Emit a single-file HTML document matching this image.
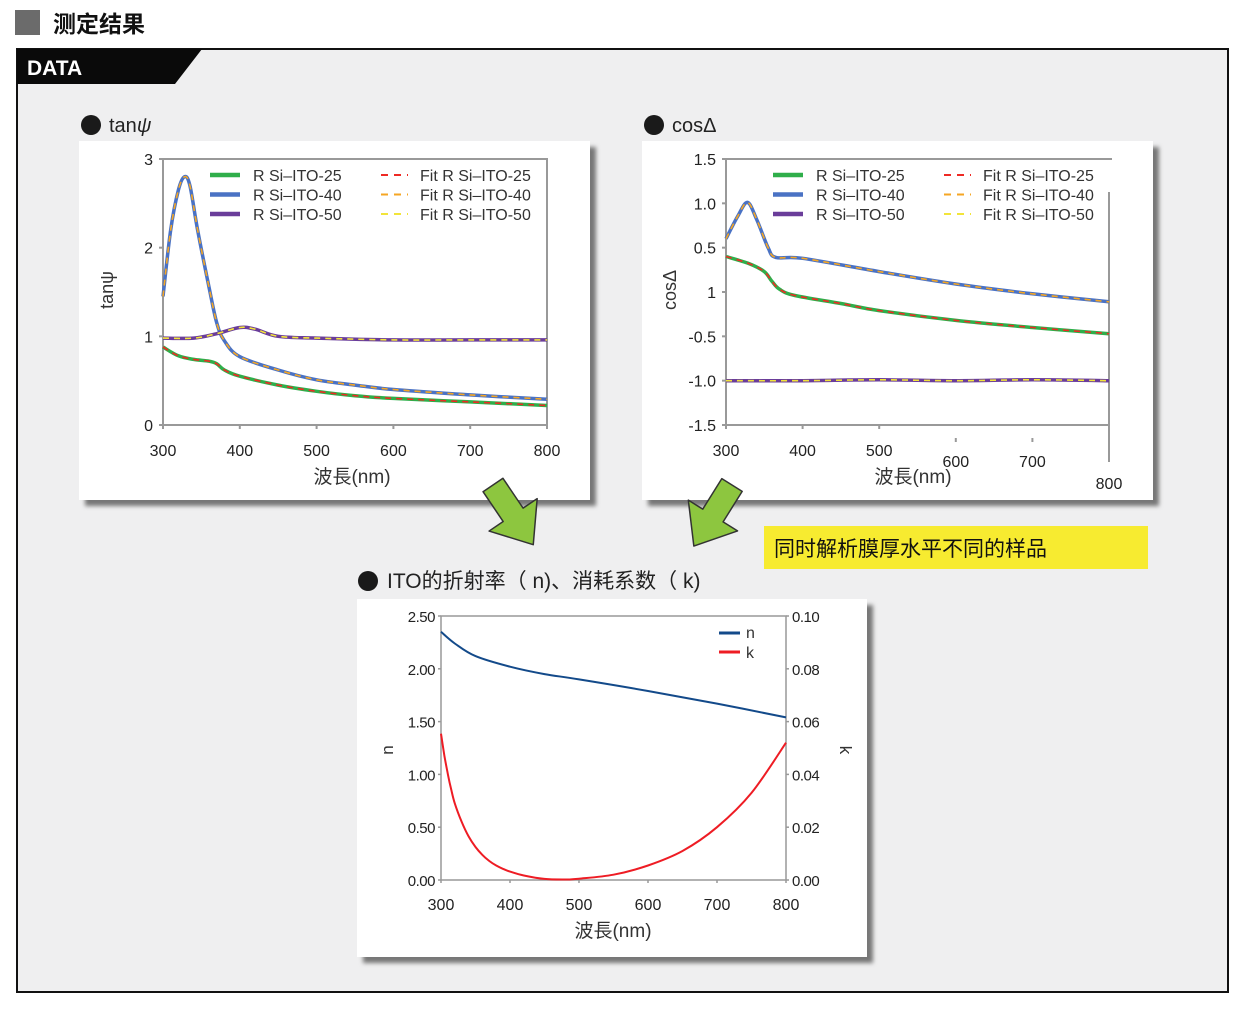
<!DOCTYPE html>
<html><head><meta charset="utf-8">
<style>
html,body{margin:0;padding:0;background:#fff;}
svg{display:block;font-family:"Liberation Sans","Noto Sans CJK SC",sans-serif;}
</style></head>
<body>
<svg id="svg" width="1248" height="1009" viewBox="0 0 1248 1009" xmlns="http://www.w3.org/2000/svg">
<defs>
<filter id="sh" x="-5%" y="-5%" width="115%" height="115%"><feGaussianBlur stdDeviation="2"/></filter>
</defs>
<rect width="1248" height="1009" fill="#fff"/>
<rect x="15" y="10" width="25" height="25" fill="#6b6b6b"/>
<text x="53" y="32" font-size="23" font-weight="bold" fill="#111" font-family="'Noto Sans CJK SC',sans-serif">测定结果</text>
<rect x="17" y="49" width="1211" height="943" fill="#efeff0" stroke="#111" stroke-width="2"/>
<polygon points="17,49 202,49 175,84 17,84" fill="#0a0a0a"/>
<text x="27" y="75" font-size="21" font-weight="bold" fill="#fff">DATA</text>

<rect x="85" y="147" width="511" height="359" fill="#777" filter="url(#sh)"/>
<rect x="79" y="141" width="511" height="359" fill="#fff"/>
<rect x="648" y="147" width="511" height="359" fill="#777" filter="url(#sh)"/>
<rect x="642" y="141" width="511" height="359" fill="#fff"/>
<rect x="363" y="605" width="510" height="358" fill="#777" filter="url(#sh)"/>
<rect x="357" y="599" width="510" height="358" fill="#fff"/>

<circle cx="91" cy="125" r="10" fill="#1a1a1a"/>
<text x="109" y="132" font-size="20" fill="#222">tan<tspan font-style="italic">ψ</tspan></text>
<circle cx="654" cy="125" r="10" fill="#1a1a1a"/>
<text x="672" y="132" font-size="20" fill="#222">cosΔ</text>
<circle cx="368" cy="581" r="10" fill="#1a1a1a"/>
<text x="387" y="588" font-size="21" fill="#222">ITO的折射率（ n)、消耗系数（ k)</text>

<rect x="764" y="526" width="384" height="43" fill="#f7eb30"/>
<text x="774" y="556" font-size="21" fill="#111">同时解析膜厚水平不同的样品</text>

<g id="arrows"></g>
<g id="c1"></g><g id="c2"></g><g id="c3"></g>
</svg>
<script>
const tanX25=[300,320,340,360,370,380,400,450,500,550,600,700,800];
const tanY25=[0.88,0.78,0.74,0.72,0.69,0.62,0.55,0.45,0.38,0.33,0.30,0.26,0.22];
const tanX40=[300,310,320,328,335,345,360,370,380,400,450,500,550,600,700,800];
const tanY40=[1.45,2.2,2.65,2.8,2.7,2.2,1.55,1.15,0.95,0.77,0.62,0.51,0.45,0.40,0.34,0.29];
const tanX50=[300,340,370,400,420,450,500,600,700,800];
const tanY50=[0.98,0.98,1.03,1.1,1.08,1.0,0.98,0.96,0.96,0.96];
const cosX25=[300,330,350,360,370,390,450,500,600,700,800];
const cosY25=[0.40,0.32,0.23,0.12,0.03,-0.04,-0.13,-0.21,-0.32,-0.40,-0.47];
const cosX40=[300,315,328,340,355,365,400,500,600,700,800];
const cosY40=[0.6,0.85,1.01,0.82,0.5,0.39,0.38,0.23,0.09,-0.02,-0.11];
const cosX50=[300,400,500,600,700,800];
const cosY50=[-1.0,-1.0,-0.99,-1.0,-0.99,-1.0];
const nkX=[300,320,350,400,450,500,600,700,800];
const nVals=[2.35,2.24,2.12,2.02,1.95,1.90,1.79,1.67,1.54];
const kX=[300,305,310,315,320,330,340,350,360,370,380,390,400,420,450,480,500,550,600,650,700,750,800];
const kVals=[0.0554,0.047,0.040,0.034,0.029,0.022,0.0165,0.0125,0.0095,0.0072,0.0055,0.0042,0.0032,0.0017,0.0004,0.0002,0.0005,0.002,0.0055,0.011,0.02,0.033,0.052];
const tanTicks=["0","1","2","3"];
const cosTicks=["-1.5","-1.0","-0.5","1","0.5","1.0","1.5"];
const xTicks=["300","400","500","600","700","800"];
const nTicks=["0.00","0.50","1.00","1.50","2.00","2.50"];
const kTicks=["0.00","0.02","0.04","0.06","0.08","0.10"];
const legNames=["R Si–ITO-25","R Si–ITO-40","R Si–ITO-50"];
const fitNames=["Fit R Si–ITO-25","Fit R Si–ITO-40","Fit R Si–ITO-50"];

const NS="http://www.w3.org/2000/svg";
function mk(parent,tag,attrs,txt){const e=document.createElementNS(NS,tag);for(const k in attrs)e.setAttribute(k,attrs[k]);if(txt!==undefined)e.textContent=txt;parent.appendChild(e);return e;}
function scale(d0,d1,r0,r1){return v=>r0+(v-d0)/(d1-d0)*(r1-r0);}
function smoothPath(xs,ys,sx,sy){
  const p=xs.map((x,i)=>[sx(x),sy(ys[i])]);
  let d="M"+p[0][0].toFixed(1)+","+p[0][1].toFixed(1);
  for(let i=0;i<p.length-1;i++){
    const p0=p[Math.max(0,i-1)],p1=p[i],p2=p[i+1],p3=p[Math.min(p.length-1,i+2)];
    const c1=[p1[0]+(p2[0]-p0[0])/6,p1[1]+(p2[1]-p0[1])/6];
    const c2=[p2[0]-(p3[0]-p1[0])/6,p2[1]-(p3[1]-p1[1])/6];
    d+=" C"+c1[0].toFixed(1)+","+c1[1].toFixed(1)+" "+c2[0].toFixed(1)+","+c2[1].toFixed(1)+" "+p2[0].toFixed(1)+","+p2[1].toFixed(1);
  }
  return d;
}
const G="#2fae4a",B="#4a72c4",P="#6a3d9a",FR="#ee2a24",FO="#f5a623",FY="#f2e43a";

(function(){
  const g=document.getElementById('c1');
  const L=163,R=547,T=159,Bt=425;
  const sx=scale(300,800,L,R), sy=scale(0,3,Bt,T);
  let e=mk(g,'rect',{x:L,y:T,width:R-L,height:Bt-T,fill:'none',stroke:'#999','stroke-width':2});
  
  tanTicks.forEach((t,i)=>{const y=sy(i);
    e=mk(g,'text',{x:L-10,y:y+6,'font-size':16,'text-anchor':'end',fill:'#222'},t);
    
    mk(g,'line',{x1:L-4,x2:L,y1:y,y2:y,stroke:'#999','stroke-width':2});});
  xTicks.forEach(t=>{const x=sx(+t);
    e=mk(g,'text',{x:x,y:456,'font-size':16,'text-anchor':'middle',fill:'#222'},t);
    
    mk(g,'line',{x1:x,x2:x,y1:Bt,y2:Bt+4,stroke:'#999','stroke-width':2});});
  e=mk(g,'text',{x:352,y:483,'font-size':19,'text-anchor':'middle',fill:'#333'},'波長(nm)');
  
  e=mk(g,'text',{x:0,y:0,'font-size':18,'text-anchor':'middle',fill:'#333',transform:'translate(113,290) rotate(-90)'},'tanψ');
  
  const ser=[[tanX25,tanY25,G,FR,'25'],[tanX40,tanY40,B,FO,'40'],[tanX50,tanY50,P,FY,'50']];
  ser.forEach(s=>{
    e=mk(g,'path',{d:smoothPath(s[0],s[1],sx,sy),fill:'none',stroke:s[2],'stroke-width':3.5});
    
    e=mk(g,'path',{d:smoothPath(s[0],s[1],sx,sy),fill:'none',stroke:s[3],'stroke-width':1.6,'stroke-dasharray':'6,5'});
    
  });
  legend(g,'tan',210,381,175);
})();

function legend(g,pre,x1,x2,y0){
  const cols=[G,B,P],fc=[FR,FO,FY];
  for(let i=0;i<3;i++){const y=y0+i*19.5;let e;
    e=mk(g,'line',{x1:x1,x2:x1+30,y1:y,y2:y,stroke:cols[i],'stroke-width':4.5});
    
    e=mk(g,'text',{x:x1+43,y:y+6,'font-size':16,fill:'#333'},legNames[i]);
    
    e=mk(g,'line',{x1:x2,x2:x2+27,y1:y,y2:y,stroke:fc[i],'stroke-width':2,'stroke-dasharray':'7,6'});
    
    e=mk(g,'text',{x:x2+39,y:y+6,'font-size':16,fill:'#333'},fitNames[i]);
    
  }
}

(function(){
  const g=document.getElementById('c2');
  const L=726,R=1109,T=159,Bt=425;
  const sx=scale(300,800,L,R), sy=scale(-1.5,1.5,Bt,T);
  let e;
  mk(g,'line',{x1:L,x2:L,y1:T,y2:Bt,stroke:'#999','stroke-width':2});
  mk(g,'line',{x1:L,x2:R+3,y1:T,y2:T,stroke:'#999','stroke-width':2});
  mk(g,'line',{x1:L,x2:R,y1:Bt,y2:Bt,stroke:'#999','stroke-width':2});
  mk(g,'line',{x1:R,x2:R,y1:192,y2:462,stroke:'#999','stroke-width':2});
  cosTicks.forEach((t,i)=>{const y=sy(-1.5+i*0.5);
    e=mk(g,'text',{x:L-10,y:y+6,'font-size':16,'text-anchor':'end',fill:'#222'},t);
    
    mk(g,'line',{x1:L-4,x2:L,y1:y,y2:y,stroke:'#999','stroke-width':2});});
  const ly=[456,456,456,467,467,489];
  xTicks.forEach((t,i)=>{const x=sx(+t);
    e=mk(g,'text',{x:x,y:ly[i],'font-size':16,'text-anchor':'middle',fill:'#222'},t);
    
    const ty=i<3?Bt:438;
    mk(g,'line',{x1:x,x2:x,y1:ty,y2:ty+4,stroke:'#999','stroke-width':2});});
  e=mk(g,'text',{x:913,y:483,'font-size':19,'text-anchor':'middle',fill:'#333'},'波長(nm)');
  
  e=mk(g,'text',{x:0,y:0,'font-size':18,'text-anchor':'middle',fill:'#333',transform:'translate(676,290) rotate(-90)'},'cosΔ');
  
  const ser=[[cosX25,cosY25,G,FR,'25'],[cosX40,cosY40,B,FO,'40'],[cosX50,cosY50,P,FY,'50']];
  ser.forEach(s=>{
    e=mk(g,'path',{d:smoothPath(s[0],s[1],sx,sy),fill:'none',stroke:s[2],'stroke-width':3.5});
    
    e=mk(g,'path',{d:smoothPath(s[0],s[1],sx,sy),fill:'none',stroke:s[3],'stroke-width':1.6,'stroke-dasharray':'6,5'});
    
  });
  legend(g,'cos',773,944,175);
})();

(function(){
  const g=document.getElementById('c3');
  const L=441,R=786,T=616,Bt=880;
  const sx=scale(300,800,L,R), sn=scale(0,2.5,Bt,T), sk=scale(0,0.1,Bt,T);
  let e=mk(g,'rect',{x:L,y:T,width:R-L,height:Bt-T,fill:'none',stroke:'#999','stroke-width':1.5});
  
  nTicks.forEach(t=>{const y=sn(+t);
    e=mk(g,'text',{x:435,y:y+6,'font-size':15,'text-anchor':'end',fill:'#222','letter-spacing':'-0.5'},t);
    
    mk(g,'line',{x1:L-3,x2:L,y1:y,y2:y,stroke:'#999','stroke-width':1.5});});
  kTicks.forEach(t=>{const y=sk(+t);
    e=mk(g,'text',{x:792,y:y+6,'font-size':15,fill:'#222','letter-spacing':'-0.5'},t);
    
    mk(g,'line',{x1:R,x2:R+3,y1:y,y2:y,stroke:'#999','stroke-width':1.5});});
  xTicks.forEach(t=>{const x=sx(+t);
    e=mk(g,'text',{x:x,y:910,'font-size':16,'text-anchor':'middle',fill:'#222'},t);
    
    mk(g,'line',{x1:x,x2:x,y1:Bt,y2:Bt+3,stroke:'#999','stroke-width':1.5});});
  e=mk(g,'text',{x:613,y:937,'font-size':19,'text-anchor':'middle',fill:'#333'},'波長(nm)');
  
  e=mk(g,'text',{x:0,y:0,'font-size':17,'text-anchor':'middle',fill:'#333',transform:'translate(393,750) rotate(-90)'},'n');
  
  e=mk(g,'text',{x:0,y:0,'font-size':17,'text-anchor':'middle',fill:'#333',transform:'translate(840,750) rotate(90)'},'k');
  
  e=mk(g,'path',{d:smoothPath(nkX,nVals,sx,sn),fill:'none',stroke:'#134a8a','stroke-width':2});
  
  e=mk(g,'path',{d:smoothPath(kX,kVals,sx,sk),fill:'none',stroke:'#ee1c24','stroke-width':2});
  
  e=mk(g,'line',{x1:719,x2:740,y1:633,y2:633,stroke:'#134a8a','stroke-width':3});
  
  e=mk(g,'text',{x:746,y:638,'font-size':16,fill:'#333'},'n');
  
  e=mk(g,'line',{x1:719,x2:740,y1:652,y2:652,stroke:'#ee1c24','stroke-width':3});
  
  e=mk(g,'text',{x:746,y:658,'font-size':16,fill:'#333'},'k');
  
})();

(function(){
  const g=document.getElementById('arrows');
  function arrow(tx,ty,ang,name){
    const pts="-12,0 12,0 12,36 29,36 0,72 -29,36 -12,36";
    const e=mk(g,'polygon',{points:pts,fill:'#8dc63f',stroke:'#333','stroke-width':1.5,'stroke-linejoin':'round',
      transform:'translate('+tx+','+ty+') rotate('+ang+')'});
    
  }
  arrow(493,485,-34,'arrow-left');
  arrow(732,485,32,'arrow-right');
})();
</script>
</body></html>
